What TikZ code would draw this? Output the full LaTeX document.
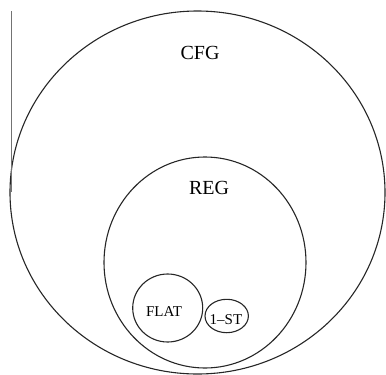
\documentclass[tikz,border=0pt]{standalone}
\usepackage{fontspec}
\setmainfont{Liberation Serif}
\begin{document}
\begin{tikzpicture}[x=1pt,y=-1pt,
  setline/.style={draw=black!85, line width=1.1pt},
  biglabel/.style={font=\fontsize{20}{22}\selectfont, inner sep=0pt},
  smalllabel/.style={font=\fontsize{15}{17}\selectfont, inner sep=0pt}]
\useasboundingbox (0,0) rectangle (386,375);
\draw[setline] (197.5,192.5) ellipse [x radius=187.5, y radius=181.5];
\draw[setline] (205,262.5) ellipse [x radius=101, y radius=105.5];
\draw[setline] (167.7,308) ellipse [x radius=35, y radius=34];
\draw[setline] (226.7,316) ellipse [x radius=21.7, y radius=16.7];
\coordinate (ltop) at (11,11);
\coordinate (lbot) at (11,192);
\draw[draw=black!55, line width=1pt] (ltop) -- (lbot);
\node[biglabel] (cfg) at (200,53) {CFG};
\node[biglabel] (reg) at (209,188) {REG};
\node[smalllabel] (flat) at (164,312) {FLAT};
\node[smalllabel] (onest) at (226,320) {1–ST};
\end{tikzpicture}
\end{document}
